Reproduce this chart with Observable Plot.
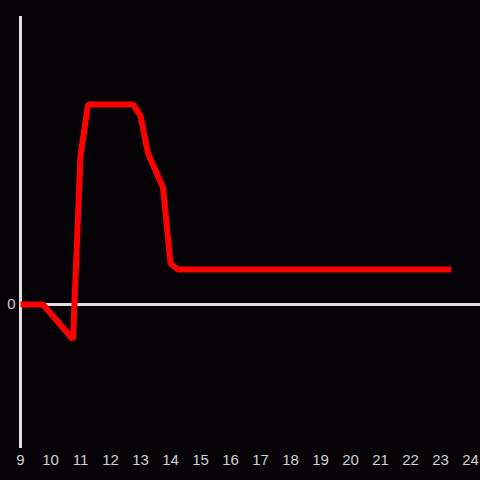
<!DOCTYPE html>
<html><head><meta charset="utf-8">
<script src="https://cdn.jsdelivr.net/npm/d3@7"></script>
<script src="https://cdn.jsdelivr.net/npm/@observablehq/plot@0.6"></script>
<style>
html,body{margin:0;padding:0;background:#050305;}
#chart svg text{font-family:"Liberation Sans",Arial,sans-serif !important;font-size:15px !important;}
</style></head><body>
<div id="chart"></div>
<script>
const hours = [9, 9.75, 10.75, 11, 11.25, 12.75, 13, 13.25, 13.75, 14, 14.25, 23.35];
const values = [0, 0, -35, 149, 200, 200, 189, 151, 117, 41, 35, 35];
const xTicks = [9,10,11,12,13,14,15,16,17,18,19,20,21,22,23,24];
const yTicks = [0];

const data = hours.map((h, i) => ({hour: h, value: values[i]}));

const chart = Plot.plot({
  width: 480,
  height: 480,
  marginLeft: 20,
  marginRight: 10,
  marginTop: 16,
  marginBottom: 32,
  style: {background: "#050305", color: "#d0d0d0", overflow: "visible"},
  x: {domain: [9, 24], ticks: xTicks, tickSize: 0, tickPadding: 6, label: null},
  y: {domain: [-144, 288], ticks: yTicks, tickSize: 0, tickPadding: 5, label: null},
  marks: [
    Plot.axisX({ticks: xTicks, tickSize: 0, tickPadding: 6, fill: "#d0d0d0"}),
    Plot.axisY({ticks: yTicks, tickSize: 0, tickPadding: 5, fill: "#d0d0d0"}),
    Plot.ruleX([9], {stroke: "#e0e0e0", strokeWidth: 3}),
    Plot.ruleY([0], {x1: 9, x2: 24.4, stroke: "#e0e0e0", strokeWidth: 3, clip: false}),
    Plot.line(data, {x: "hour", y: "value", stroke: "#ff0000", strokeWidth: 6, strokeLinejoin: "miter", strokeLinecap: "butt"})
  ]
});
document.getElementById("chart").appendChild(chart);
</script>
</body></html>
